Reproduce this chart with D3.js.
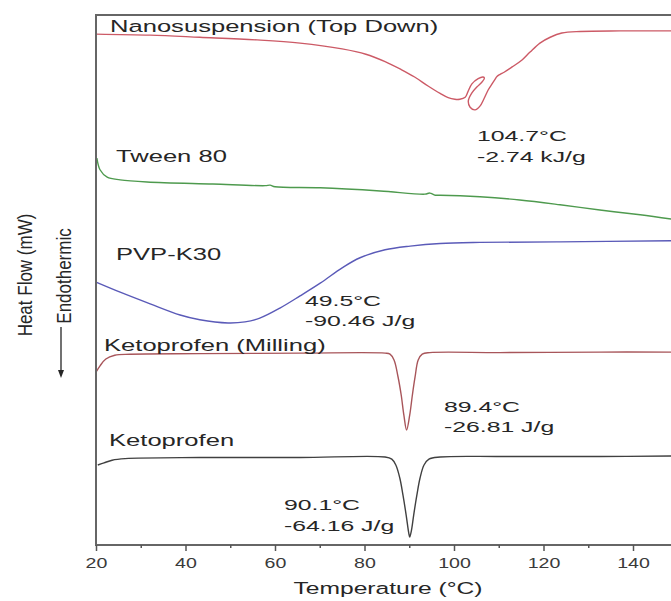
<!DOCTYPE html>
<html><head><meta charset="utf-8">
<script src="https://cdn.jsdelivr.net/npm/d3@7"></script>
<style>body{margin:0;background:#fff} svg{display:block}</style>
</head><body>
<svg id="c" width="671" height="601"></svg>
<script>
// Temperature ticks (°C)
const majorTicks = [20, 40, 60, 80, 100, 120, 140];
const minorTicks = [30, 50, 70, 90, 110, 130, 150];

// DSC curves: [temperature °C, heat flow (arbitrary, offset units)]
const nanosuspension = [[20.0,96.4],[32.1,96.2],[43.2,95.8],[56.0,95.3],[65.6,94.7],[75.0,93.6],[80.3,92.6],[84.6,91.2],[88.2,89.7],[91.2,88.3],[94.2,86.6],[96.9,85.2],[98.7,84.4],[100.2,84.1],[101.3,84.1],[102.5,84.5],[103.1,85.5],[104.0,87.0],[105.4,88.0],[106.5,88.3],[106.8,88.1],[106.3,87.4],[105.1,86.4],[104.0,85.3],[103.2,83.8],[103.6,82.6],[104.7,82.1],[105.8,82.8],[106.7,84.2],[107.6,85.8],[108.5,87.0],[109.2,87.9],[109.6,88.4],[110.3,88.8],[111.2,89.2],[113.0,90.2],[115.2,91.5],[117.0,93.0],[119.2,94.7],[121.5,95.8],[124.1,96.6],[128.2,96.9],[137.1,97.0],[148.5,97.0]];
const tween80 = [[20.2,73.0],[20.9,70.8],[22.5,69.4],[25.4,68.9],[31.4,68.5],[46.1,68.1],[57.8,67.8],[58.9,67.9],[60.0,67.6],[70.1,67.4],[83.5,66.8],[93.5,66.2],[94.6,66.4],[95.8,66.0],[96.9,66.0],[105.8,65.7],[114.7,65.1],[123.7,64.2],[132.6,63.2],[141.6,62.3],[148.5,61.5]];
const pvpK30 = [[20,49.6],[25.4,47.7],[32.1,45.5],[38.8,43.4],[43.2,42.5],[49.5,41.9],[53.3,42.1],[56.6,42.8],[61.1,44.7],[65.6,47.0],[70.1,49.4],[75.0,52.3],[79.0,54.2],[84.6,55.7],[90.2,56.4],[96.9,56.9],[105.8,57.1],[123.7,57.2],[148.5,57.4]];
const ketoMilling = [[20,32.6],[20.9,33.8],[22.2,35.1],[24.2,35.8],[27.6,36.0],[43.2,36.1],[65.6,36.2],[84.6,36.2],[85.7,36.0],[86.6,34.9],[87.5,31.7],[88.2,28.3],[88.8,24.5],[89.4,21.7],[90.1,24.5],[90.7,28.3],[91.3,31.7],[92.0,34.9],[92.9,36.0],[94.6,36.3],[110.3,36.3],[132.6,36.4],[148.5,36.4]];
const ketoprofen = [[20.4,15.1],[21.8,15.5],[23.6,16.0],[26.5,16.3],[43.2,16.5],[65.6,16.5],[84.6,16.6],[86.1,16.2],[87.0,15.1],[87.9,12.6],[88.6,9.4],[89.3,5.7],[89.9,2.2],[90.1,1.5],[90.5,2.8],[91.0,5.7],[91.7,9.4],[92.4,12.6],[93.3,15.1],[94.4,16.2],[96.9,16.6],[110.3,16.7],[132.6,16.7],[148.5,16.8]];

const seriesNames = ["Nanosuspension (Top Down)", "Tween 80", "PVP-K30", "Ketoprofen (Milling)", "Ketoprofen"];
const annotations = [["104.7°C", "-2.74 kJ/g"], ["49.5°C", "-90.46 J/g"], ["89.4°C", "-26.81 J/g"], ["90.1°C", "-64.16 J/g"]];

const svg = d3.select("#c");
const FONT = "'Liberation Sans', Arial, sans-serif";
const x = d3.scaleLinear().domain([20, 140]).range([96, 633]);
const y = d3.scaleLinear().domain([0, 100]).range([545, 15]);

const line = d3.line().x(d => x(d[0])).y(d => y(d[1])).curve(d3.curveCatmullRom.alpha(0.5));
const series = [
  {data: nanosuspension, color: "#cc5a66"},
  {data: tween80, color: "#4e9a4e"},
  {data: pvpK30, color: "#5a5ab8"},
  {data: ketoMilling, color: "#a8555a"},
  {data: ketoprofen, color: "#404040"}
];
series.forEach(s => svg.append("path").datum(s.data).attr("d", line)
  .attr("fill", "none").attr("stroke", s.color).attr("stroke-width", 1.4));

// frame
svg.append("path").attr("d", "M671,15H96V545H671").attr("fill", "none")
  .attr("stroke", "#666").attr("stroke-width", 2);

// x axis ticks
const gx = svg.append("g").attr("transform", "translate(0,545)")
  .call(d3.axisBottom(x).tickValues(majorTicks).tickSize(6).tickSizeOuter(0).tickPadding(7));
gx.select(".domain").remove();
gx.selectAll("line").attr("stroke", "#555").attr("stroke-width", 1.5);
gx.selectAll("text").attr("font-family", FONT).attr("font-size", 14).attr("fill", "#3a3a3a")
  .attr("transform", "scale(1.4,1)");
const gm = svg.append("g").attr("transform", "translate(0,545)")
  .call(d3.axisBottom(x).tickValues(minorTicks).tickSize(3).tickSizeOuter(0).tickFormat(""));
gm.select(".domain").remove();
gm.selectAll("line").attr("stroke", "#555").attr("stroke-width", 1.5);

function label(x0, y0, txt, size, sx, anchor) {
  svg.append("text").attr("transform", `translate(${x0},${y0}) scale(${sx},1)`)
    .attr("font-family", FONT).attr("font-size", size).attr("fill", "#262626")
    .attr("text-anchor", anchor || "start").text(txt);
}
// series labels
const labelPos = [[110, 32], [116, 162], [116, 260], [104, 351], [109, 446]];
seriesNames.forEach((n, i) => label(labelPos[i][0], labelPos[i][1], n, 16.5, 1.55));
// annotations
const annPos = [[477, 141, 162], [305, 306, 326], [444, 412, 432], [284, 510, 531]];
annotations.forEach((a, i) => {
  label(annPos[i][0], annPos[i][1], a[0], 15.5, 1.6);
  label(annPos[i][0], annPos[i][2], a[1], 15.5, 1.6);
});
// axis titles
label(388, 594, "Temperature (°C)", 17, 1.45, "middle");
svg.append("text").attr("transform", "translate(32,275) rotate(-90) scale(1,1.2)")
  .attr("font-family", FONT).attr("font-size", 17).attr("fill", "#262626")
  .attr("text-anchor", "middle").text("Heat Flow (mW)");
svg.append("text").attr("transform", "translate(71,276) rotate(-90) scale(1,1.2)")
  .attr("font-family", FONT).attr("font-size", 17).attr("fill", "#262626")
  .attr("text-anchor", "middle").text("Endothermic");
svg.append("line").attr("x1", 61).attr("x2", 61).attr("y1", 327).attr("y2", 371)
  .attr("stroke", "#262626").attr("stroke-width", 1.3);
svg.append("path").attr("d", "M58,370L64,370L61,378Z").attr("fill", "#262626");
</script>
</body></html>
